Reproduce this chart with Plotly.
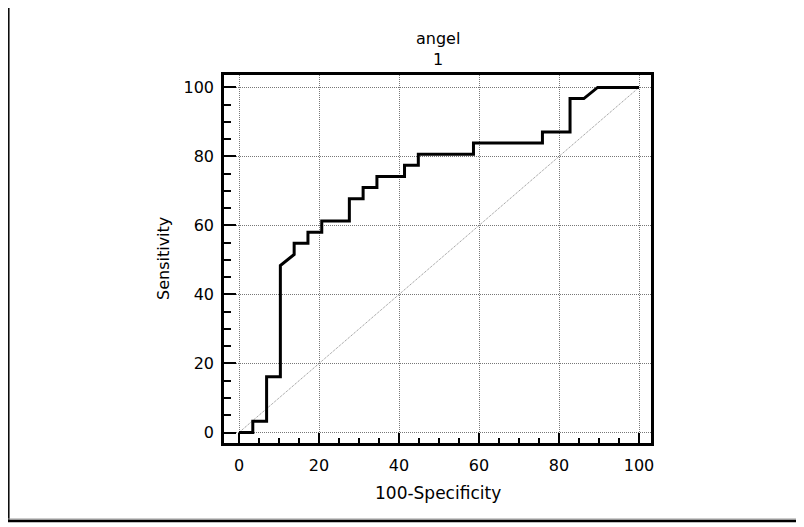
import plotly.graph_objects as go

# ROC curve points (100-Specificity, Sensitivity)
fpr = [0, 3.45, 3.45, 6.90, 6.90, 10.34, 10.34, 13.79, 13.79, 17.24, 17.24, 20.69, 20.69,
       27.59, 27.59, 31.03, 31.03, 34.48, 34.48, 41.38, 41.38, 44.83, 44.83, 58.62, 58.62,
       75.86, 75.86, 82.76, 82.76, 86.21, 89.66, 100]
tpr = [0, 0, 3.23, 3.23, 16.13, 16.13, 48.39, 51.61, 54.84, 54.84, 58.06, 58.06, 61.29,
       61.29, 67.74, 67.74, 70.97, 70.97, 74.19, 74.19, 77.42, 77.42, 80.65, 80.65, 83.87,
       83.87, 87.10, 87.10, 96.77, 96.77, 100, 100]
diag_x = [0, 100]
diag_y = [0, 100]
tick_vals = [0, 20, 40, 60, 80, 100]
tick_text = ["0", "20", "40", "60", "80", "100"]
title_lines = ["angel", "1"]
x_title = "100-Specificity"
y_title = "Sensitivity"

FONT = "DejaVu Sans, Arial, sans-serif"

fig = go.Figure()
fig.add_trace(go.Scatter(x=diag_x, y=diag_y, mode="lines",
                         line=dict(color="#8a8a8a", width=1, dash="1px,1px"),
                         hoverinfo="skip", showlegend=False))
fig.add_trace(go.Scatter(x=fpr, y=tpr, mode="lines",
                         line=dict(color="black", width=3),
                         showlegend=False))

# page has an 8px body margin; the figure starts at page (8, 8)
OFF = 8
W, H = 804 - OFF, 527 - OFF
L, R, T, B = 224 - OFF, 153, 75 - OFF, 84
pw, ph = W - L - R, H - T - B

def px_x(p):  # page pixel -> paper x
    return (p - OFF - L) / pw

def px_y(p):  # page pixel -> paper y
    return (H - B - (p - OFF)) / ph

axis_common = dict(
    showline=True, linecolor="black", linewidth=2.5, mirror=True,
    ticks="inside", tickcolor="black", tickwidth=2,
    showgrid=True, gridcolor="#777777", griddash="1px,1px", gridwidth=1,
    zeroline=False,
    tickfont=dict(family=FONT, size=16, color="black"),
    tickvals=tick_vals, ticktext=tick_text,
)

fig.update_xaxes(range=[-3.75, 103], ticklen=10, ticklabelstandoff=6,
                 minor=dict(dtick=5, tick0=0, ticks="inside", ticklen=5,
                            tickwidth=2, tickcolor="black", showgrid=False),
                 **axis_common)
fig.update_yaxes(range=[-3.04, 103.6], ticklen=12, ticklabelstandoff=4,
                 minor=dict(dtick=5, tick0=0, ticks="inside", ticklen=7,
                            tickwidth=2, tickcolor="black", showgrid=False),
                 **axis_common)

fig.add_annotation(text="<br>".join(title_lines), xref="paper", yref="paper",
                   x=0.5, y=px_y(49), xanchor="center", yanchor="middle",
                   showarrow=False, font=dict(family=FONT, size=16, color="black"))
fig.add_annotation(text=x_title, xref="paper", yref="paper",
                   x=0.5, y=px_y(493), xanchor="center", yanchor="middle",
                   showarrow=False, font=dict(family=FONT, size=17, color="black"))
fig.add_annotation(text=y_title, xref="paper", yref="paper", textangle=-90,
                   x=px_x(163), y=0.5, xanchor="center", yanchor="middle",
                   showarrow=False, font=dict(family=FONT, size=16, color="black"))

# outer frame decoration (left and bottom edges)
fig.add_shape(type="line", xref="paper", yref="paper",
              x0=px_x(8.8), x1=px_x(8.8), y0=px_y(0), y1=px_y(521),
              line=dict(color="black", width=1.5))
fig.add_shape(type="line", xref="paper", yref="paper",
              x0=px_x(8), x1=px_x(810), y0=px_y(519), y1=px_y(519),
              line=dict(color="#999999", width=1))
fig.add_shape(type="line", xref="paper", yref="paper",
              x0=px_x(8), x1=px_x(810), y0=px_y(521), y1=px_y(521),
              line=dict(color="black", width=2.5))

fig.update_layout(width=W, height=H, margin=dict(l=L, r=R, t=T, b=B),
                  plot_bgcolor="white", paper_bgcolor="white",
                  font=dict(family=FONT, size=16, color="black"))

fig.write_html("out.html")
